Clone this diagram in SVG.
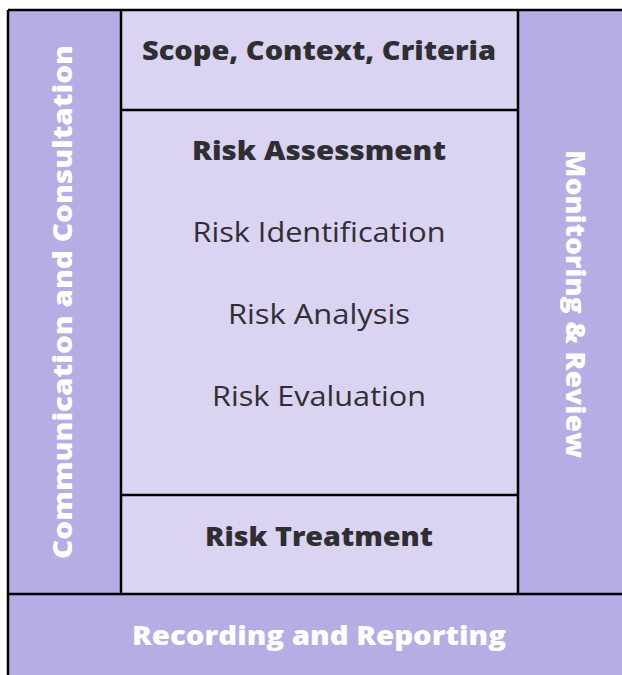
<svg xmlns="http://www.w3.org/2000/svg" width="622" height="675" viewBox="0 0 622 675">
  <style>
    .dark { fill: #b7ade5; }
    .light { fill: #dad3f1; }
    .edge { stroke: #000; stroke-width: 2.5; fill: none; }
    .title { font-family: "Open Sans", "Liberation Sans", sans-serif; font-weight: 800; font-size: 27px; fill: #2f2f33; text-anchor: middle; }
    .item { font-family: "Open Sans", "Liberation Sans", sans-serif; font-weight: 400; font-size: 27px; fill: #2f2f33; text-anchor: middle; }
    .side { font-family: "Open Sans", "Liberation Sans", sans-serif; font-weight: 800; font-size: 27px; fill: #ffffff; text-anchor: middle; }
  </style>
  <rect x="0" y="0" width="622" height="675" fill="#ffffff"/>

  <g id="communication-consultation">
    <rect class="dark" x="8" y="10" width="113" height="584"/>
    <text class="side" transform="translate(72 302) rotate(-90)" textLength="514" lengthAdjust="spacingAndGlyphs">Communication and Consultation</text>
  </g>

  <g id="scope-context-criteria">
    <rect class="light" x="121" y="10" width="397" height="100"/>
    <text class="title" x="319" y="60" textLength="354" lengthAdjust="spacingAndGlyphs">Scope, Context, Criteria</text>
  </g>

  <g id="risk-assessment">
    <rect class="light" x="121" y="110" width="397" height="385"/>
    <text class="title" x="319" y="160" textLength="254" lengthAdjust="spacingAndGlyphs">Risk Assessment</text>
    <text class="item" x="319" y="242" textLength="253" lengthAdjust="spacingAndGlyphs">Risk Identification</text>
    <text class="item" x="319" y="324" textLength="182" lengthAdjust="spacingAndGlyphs">Risk Analysis</text>
    <text class="item" x="319" y="406" textLength="214" lengthAdjust="spacingAndGlyphs">Risk Evaluation</text>
  </g>

  <g id="risk-treatment">
    <rect class="light" x="121" y="495" width="397" height="99"/>
    <text class="title" x="319" y="546" textLength="228" lengthAdjust="spacingAndGlyphs">Risk Treatment</text>
  </g>

  <g id="monitoring-review">
    <rect class="dark" x="518" y="10" width="104" height="584"/>
    <text class="side" transform="translate(566 304) rotate(90)" textLength="308" lengthAdjust="spacingAndGlyphs">Monitoring &amp; Review</text>
  </g>

  <g id="recording-reporting">
    <rect class="dark" x="8" y="594" width="614" height="81"/>
    <text class="side" x="319" y="645" textLength="374" lengthAdjust="spacingAndGlyphs">Recording and Reporting</text>
  </g>

  <g id="connectors">
    <path class="edge" d="M8 10 H622 M8 10 V675 M121 10 V594 M518 10 V594 M121 110 H518 M121 495 H518 M8 594 H622"/>
  </g>
</svg>
